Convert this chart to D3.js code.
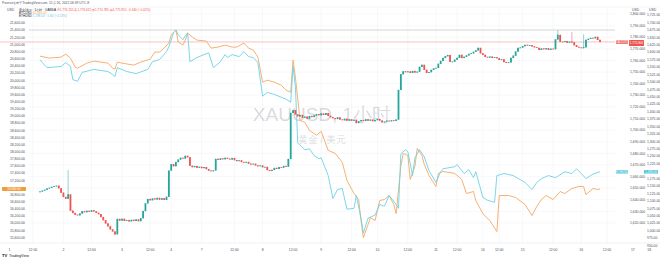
<!DOCTYPE html>
<html>
<head>
<meta charset="utf-8">
<script src="https://cdn.jsdelivr.net/npm/d3@7"></script>
<style>
  html, body { margin: 0; padding: 0; background: #fff; }
  svg { display: block; font-family: "Liberation Sans", Arial, sans-serif; }
</style>
</head>
<body>
<div id="chart"></div>
<script>
// XAUUSD hourly closes, 1 Nov - 16 Nov 2022
const goldClose = [
  1647.0, 1647.8, 1648.5, 1649.6, 1650.2, 1651.0, 1651.5, 1652.0, 1649.8, 1646.0,
  1642.3, 1640.8, 1644.5, 1630.5, 1628.5, 1627.0, 1626.5, 1628.0, 1630.0, 1629.2,
  1630.4, 1629.6, 1630.8, 1629.9, 1628.7, 1627.5, 1625.0, 1622.3, 1619.5, 1617.0,
  1614.4, 1612.6, 1610.2, 1623.4, 1622.0, 1623.5, 1621.8, 1622.4, 1621.3, 1622.6,
  1621.7, 1622.9, 1621.5, 1624.0, 1630.2, 1636.8, 1640.5, 1639.5, 1641.0, 1640.2,
  1641.5, 1640.0, 1641.2, 1639.8, 1642.5, 1665.0, 1670.5, 1668.8, 1672.4, 1674.5,
  1676.0, 1675.4, 1677.7, 1676.5, 1669.2, 1668.0, 1668.9, 1667.5, 1668.3, 1667.2,
  1668.0, 1666.3, 1665.0, 1664.5, 1665.2, 1675.1, 1674.3, 1675.5, 1674.8, 1676.0,
  1675.2, 1674.6, 1675.8, 1674.0, 1673.2, 1673.8, 1672.4, 1671.9, 1672.5, 1671.0,
  1670.3, 1670.9, 1669.5, 1668.8, 1669.4, 1667.9, 1668.2, 1665.5, 1664.8, 1665.6,
  1667.3, 1666.5, 1668.0, 1667.6, 1669.0, 1668.4, 1675.0, 1714.7, 1717.0, 1713.4,
  1711.8, 1712.9, 1710.6, 1711.5, 1709.8, 1712.0, 1711.2, 1712.5, 1713.6, 1712.8,
  1714.2, 1713.0, 1714.5, 1712.2, 1711.0, 1710.2, 1709.5, 1710.8, 1709.0, 1708.5,
  1709.6, 1708.2, 1709.1, 1708.0, 1708.8, 1706.0, 1707.5, 1708.4, 1707.8, 1709.2,
  1708.0, 1708.9, 1707.6, 1708.5, 1709.4, 1708.1, 1706.6, 1707.2, 1708.0, 1707.5,
  1708.3, 1707.9, 1709.0, 1734.5, 1748.0, 1750.5, 1749.8, 1750.4, 1749.2, 1750.8,
  1749.5, 1750.2, 1754.4, 1756.1, 1751.8, 1749.2, 1749.8, 1751.8, 1753.0, 1753.5,
  1757.0, 1759.5, 1762.0, 1763.5, 1764.5, 1758.7, 1758.9, 1760.5, 1762.1, 1764.7,
  1762.0, 1763.0, 1764.2, 1765.5, 1766.0, 1767.3, 1768.5, 1770.7, 1766.0, 1764.7,
  1763.0, 1762.4, 1763.2, 1762.1, 1762.6, 1761.8, 1760.4, 1760.8, 1758.5, 1757.8,
  1758.2, 1762.1, 1764.0, 1767.5, 1770.7, 1771.0, 1772.2, 1773.3, 1772.8, 1773.0,
  1772.0, 1771.2, 1770.7, 1769.0, 1770.2, 1769.5, 1770.4, 1769.0, 1770.0, 1769.6,
  1778.0, 1781.9, 1776.0, 1775.9, 1776.5, 1775.2, 1776.0, 1775.5, 1773.0, 1771.6,
  1771.0, 1770.8, 1771.2, 1777.6, 1778.5, 1779.3, 1779.0, 1780.2, 1777.6, 1775.9
]
const goldFirstOpen = 1646.5
// [bar, high, low] for the candles with visible wicks
const goldWicks = [
  [12, 1665.6, 1640.5], [32, 1612.6, 1609.5], [221, 1786.2, 1777.5],
  [227, 1784.5, 1774.8], [232, 1782.5, 1770.0]
]
const goldLevel = 1786.2

// comparison series, [bar, close]
const btcLine = [
  [0, 20677], [4, 20621], [9, 20649], [11, 20733], [13, 20621], [15, 20368], [16, 20340],
  [20, 20481], [23, 20537], [29, 20481], [31, 20340], [32, 20312], [33, 20509], [35, 20481],
  [40, 20425], [43, 20509], [47, 20593], [49, 20790], [51, 20790], [53, 20902], [55, 21042],
  [56, 21267], [58, 21407], [59, 21070], [61, 20986], [62, 21126], [63, 21323], [65, 21211],
  [67, 21126], [71, 21098], [73, 20902], [76, 20930], [79, 20986], [82, 20930], [84, 20930],
  [87, 21042], [89, 20902], [91, 20846], [93, 20649], [95, 19947], [97, 20004], [100, 19947],
  [103, 19863], [105, 19723], [107, 19667], [108, 20565], [109, 20088], [111, 18881],
  [113, 18825], [115, 18600], [118, 18460], [120, 18572], [123, 18039], [126, 17954],
  [129, 17702], [131, 17197], [134, 16832], [136, 16663], [137, 16074], [138, 15596],
  [140, 15961], [141, 16158], [143, 16074], [145, 16635], [147, 16663], [149, 16775],
  [151, 16523], [152, 16270], [154, 17590], [155, 17954], [157, 17898], [158, 17225],
  [160, 17590], [161, 18095], [163, 17898], [164, 17646], [166, 17337], [169, 17028],
  [170, 17393], [172, 17449], [177, 17393], [180, 17225], [182, 16832], [185, 16888],
  [186, 16635], [189, 16270], [192, 16074], [195, 15765], [196, 16775], [200, 16775],
  [203, 16719], [207, 16523], [210, 16214], [212, 16467], [214, 16663], [216, 16775],
  [219, 16663], [222, 16888], [224, 16832], [227, 16972], [230, 17028], [232, 17028],
  [233, 16800], [236, 16972], [238, 16944], [239, 16960]
]
const ethLine = [
  [0, 1575], [1, 1565], [3, 1548], [9, 1552], [11, 1565], [13, 1552], [14, 1508], [16, 1502],
  [18, 1532], [23, 1542], [29, 1535], [31, 1525], [32, 1518], [33, 1548], [37, 1535],
  [41, 1528], [46, 1542], [48, 1568], [51, 1575], [54, 1602], [55, 1618], [57, 1665],
  [58, 1675], [59, 1658], [61, 1642], [62, 1655], [63, 1665], [64, 1568], [67, 1582],
  [70, 1592], [72, 1598], [74, 1548], [77, 1568], [79, 1592], [80, 1582], [82, 1592],
  [85, 1585], [87, 1602], [89, 1585], [91, 1582], [93, 1565], [95, 1452], [97, 1465],
  [100, 1458], [105, 1442], [107, 1432], [108, 1552], [109, 1485], [110, 1295], [113, 1272],
  [115, 1275], [117, 1252], [119, 1242], [120, 1245], [123, 1185], [125, 1108], [127, 1138],
  [129, 1142], [131, 1072], [134, 1075], [135, 1118], [137, 1042], [138, 992], [140, 1042],
  [143, 1052], [145, 1088], [147, 1082], [149, 1118], [152, 1088], [153, 1075], [154, 1258],
  [156, 1272], [157, 1265], [159, 1185], [160, 1245], [162, 1272], [164, 1248], [166, 1202],
  [169, 1162], [171, 1198], [172, 1208], [177, 1215], [178, 1222], [181, 1192], [183, 1205],
  [185, 1178], [186, 1198], [189, 1112], [191, 1102], [194, 1095], [195, 1185], [198, 1192],
  [202, 1185], [207, 1162], [210, 1138], [212, 1162], [214, 1175], [217, 1185], [220, 1178],
  [224, 1198], [227, 1192], [229, 1208], [231, 1192], [233, 1175], [236, 1190], [239, 1198]
]

// axes
const timeTicks = [-13, -3, 10, 22, 35, 47, 56, 69, 83, 95, 108, 120, 133, 144, 157, 169,
  178, 189, 196, 206, 219, 231, 242, 253, 260]
const timeLabels = ['1', '12:00', '2', '12:00', '3', '12:00', '4', '7', '12:00', '8', '12:00',
  '9', '12:00', '10', '12:00', '11', '12:00', '14', '12:00', '15', '12:00', '16', '12:00', '17', '18']
const goldTicks = [1620, 1630, 1640, 1650, 1660, 1670, 1680, 1690, 1700, 1710, 1720, 1730,
  1740, 1750, 1760, 1770, 1780, 1790, 1800]
const btcTicks = [15600, 15800, 16000, 16200, 16400, 16600, 16800, 17000, 17200, 17400, 17600,
  17800, 18000, 18200, 18400, 18600, 18800, 19000, 19200, 19400, 19600, 19800, 20000, 20200,
  20400, 20600, 20800, 21000, 21200, 21400, 21600]
const ethTicks = [950, 975, 1000, 1025, 1050, 1075, 1100, 1125, 1150, 1175, 1200, 1225, 1250,
  1275, 1300, 1325, 1350, 1375, 1400, 1425, 1450, 1475, 1500, 1525, 1550, 1575, 1600, 1625,
  1650, 1675, 1700, 1725]

// texts
const headerText = 'Pounce发布于TradingView.com, 11月 16, 2022 06:39 UTC-8'
const legendRows = [
  {name: '黄金/美元 · 1小时 · OANDA', value: '开1,776.255 高1,776.615 低1,774.785 收1,775.915 −0.340 (−0.02%)', color: '#ef5350'},
  {name: 'BTCUSD', value: '16,960.00', color: '#f2a45c'},
  {name: 'ETHUSD', value: '1,198.00 −1.60 (−0.13%)', color: '#5fcde4'}
]

const upColor = '#26a69a', downColor = '#ef5350',
      btcColor = '#f5a862', ethColor = '#6dd1e9'

// Pane geometry
const W = 660, H = 260
const pane = {left: 29, right: 615, top: 7, bottom: 243}

const svg = d3.select('#chart').append('svg')
  .attr('width', W).attr('height', H)

// Scales
const x = d3.scaleLinear().domain([0, goldClose.length - 1]).range([40, 600])
const yGold = d3.scaleLinear().domain([1620, 1800]).range([223, 14])
const yBtc = d3.scaleLinear().domain([15600, 21800]).range([237.5, 16])
const yEth = d3.scaleLinear().domain([950, 1725]).range([245.5, 15])

const lastGold = goldClose[goldClose.length - 1],
      lastBtc = btcLine[btcLine.length - 1][1],
      lastEth = ethLine[ethLine.length - 1][1]

// Grid
const grid = svg.append('g').attr('class', 'grid')
grid.selectAll('.vgrid').data(timeTicks.filter(t => x(t) > pane.left && x(t) < pane.right))
  .join('line')
  .attr('x1', d => x(d)).attr('x2', d => x(d))
  .attr('y1', pane.top).attr('y2', pane.bottom)
  .attr('stroke', '#f0f1f4').attr('stroke-width', 0.6)
grid.selectAll('.hgrid').data(goldTicks)
  .join('line')
  .attr('x1', pane.left).attr('x2', pane.right)
  .attr('y1', d => yGold(d)).attr('y2', d => yGold(d))
  .attr('stroke', '#f3f4f7').attr('stroke-width', 0.6)

// pane borders
svg.append('line').attr('x1', 0).attr('x2', W).attr('y1', pane.top).attr('y2', pane.top)
  .attr('stroke', '#eceef2').attr('stroke-width', 0.6)
svg.append('line').attr('x1', 0).attr('x2', W).attr('y1', pane.bottom).attr('y2', pane.bottom)
  .attr('stroke', '#e3e5ea').attr('stroke-width', 0.6)

// Watermark
svg.append('text')
  .attr('x', (pane.left + pane.right) / 2).attr('y', 121)
  .attr('text-anchor', 'middle')
  .style('font-size', '19px')
  .attr('fill', '#787b86').attr('fill-opacity', 0.28)
  .text('XAUUSD, 1小时')
svg.append('text')
  .attr('x', (pane.left + pane.right) / 2).attr('y', 143)
  .attr('text-anchor', 'middle')
  .style('font-size', '10px')
  .attr('fill', '#787b86').attr('fill-opacity', 0.28)
  .text('黄金 / 美元')

// Horizontal level and last price line
svg.append('line')
  .attr('x1', pane.left).attr('x2', pane.right)
  .attr('y1', yGold(goldLevel)).attr('y2', yGold(goldLevel))
  .attr('stroke', '#b8bbc4').attr('stroke-width', 0.6)
svg.append('line')
  .attr('x1', 0).attr('x2', pane.right)
  .attr('y1', yGold(lastGold)).attr('y2', yGold(lastGold))
  .attr('stroke', '#ef5350').attr('stroke-opacity', 0.6).attr('stroke-width', 0.6)

// Comparison lines
const lineGen = (yScale) => d3.line().x(d => x(d[0])).y(d => yScale(d[1]))
svg.append('path').datum(btcLine)
  .attr('d', lineGen(yBtc))
  .attr('fill', 'none').attr('stroke', btcColor).attr('stroke-width', 0.9)
svg.append('path').datum(ethLine)
  .attr('d', lineGen(yEth))
  .attr('fill', 'none').attr('stroke', ethColor).attr('stroke-width', 0.9)

// Candles
const wickMap = new Map(goldWicks.map(w => [w[0], w]))
const candles = goldClose.map((c, i) => {
  let o = i === 0 ? goldFirstOpen : goldClose[i - 1]
  let w = wickMap.get(i)
  return {
    i: i, o: o, c: c,
    h: w ? w[1] : Math.max(o, c),
    l: w ? w[2] : Math.min(o, c)
  }
})
const step = x(1) - x(0)
const cg = svg.append('g').attr('class', 'candles')
cg.selectAll('line').data(candles).join('line')
  .attr('x1', d => x(d.i)).attr('x2', d => x(d.i))
  .attr('y1', d => yGold(d.h)).attr('y2', d => yGold(d.l))
  .attr('stroke', d => d.c >= d.o ? upColor : downColor)
  .attr('stroke-width', 0.5)
cg.selectAll('rect').data(candles).join('rect')
  .attr('x', d => x(d.i) - step * 0.38)
  .attr('width', step * 0.76)
  .attr('y', d => yGold(Math.max(d.o, d.c)) - 0.3)
  .attr('height', d => Math.max(0.9, Math.abs(yGold(d.o) - yGold(d.c)) + 0.3))
  .attr('fill', d => d.c >= d.o ? upColor : downColor)

// Price axes (labels under a value tag are hidden, as the platform does)
const axisText = {size: '3.4px', color: '#4a4d57'}
const fmt2 = d3.format(',.2f'), fmt3 = d3.format(',.3f')
const clear = (yPos, yTag) => Math.abs(yPos - yTag) > 4

svg.append('g').selectAll('text').data(btcTicks.filter(d => clear(yBtc(d), yBtc(lastBtc))))
  .join('text')
  .attr('x', 25).attr('y', d => yBtc(d) + 1.2)
  .attr('text-anchor', 'end')
  .style('font-size', axisText.size).attr('fill', axisText.color)
  .text(d => fmt2(d))
svg.append('g').selectAll('text').data(goldTicks.filter(d => clear(yGold(d), yGold(lastGold))))
  .join('text')
  .attr('x', 630).attr('y', d => yGold(d) + 1.2)
  .style('font-size', axisText.size).attr('fill', axisText.color)
  .text(d => fmt3(d))
svg.append('g').selectAll('text').data(ethTicks.filter(d => clear(yEth(d), yEth(lastEth))))
  .join('text')
  .attr('x', 647).attr('y', d => yEth(d) + 1.2)
  .style('font-size', axisText.size).attr('fill', axisText.color)
  .text(d => fmt2(d))

// currency headers
;[7, 632, 649].forEach(px => {
  svg.append('text').attr('x', px).attr('y', 10.5)
    .style('font-size', axisText.size).attr('fill', axisText.color).text('USD')
})

// Time axis
svg.append('g').selectAll('text').data(timeTicks).join('text')
  .attr('x', d => x(d)).attr('y', 250.5)
  .attr('text-anchor', 'middle')
  .style('font-size', axisText.size).attr('fill', axisText.color)
  .text((d, i) => timeLabels[i])

// Last value labels
function tag(x0, x1, yc, h, fill, label) {
  svg.append('rect').attr('x', x0).attr('y', yc - h / 2)
    .attr('width', x1 - x0).attr('height', h).attr('rx', 0.6).attr('fill', fill)
  svg.append('text').attr('x', (x0 + x1) / 2).attr('y', yc + 1.1)
    .attr('text-anchor', 'middle').style('font-size', '3px').attr('fill', '#fff')
    .text(label)
}
let yg = yGold(lastGold)
tag(616, 628, yg, 3.6, '#ef5350', 'XAUUSD')
tag(629, 644, yg + 1, 6, '#ef5350', fmt3(lastGold))
let ye = yEth(lastEth)
tag(616, 628, ye, 3.6, '#4fc3dc', 'ETHUSD')
tag(644, 658, ye, 3.6, '#4fc3dc', fmt2(lastEth))
let yb = yBtc(lastBtc)
tag(2, 26, yb, 4, '#f39c3d', fmt2(lastBtc))

// Header and legend
svg.append('text').attr('x', 2).attr('y', 4.2)
  .style('font-size', '3.3px').attr('fill', '#50535e').text(headerText)
legendRows.forEach((r, k) => {
  let t = svg.append('text').attr('x', 19).attr('y', 10.5 + k * 3.4)
    .style('font-size', '3.1px')
  t.append('tspan').attr('fill', '#131722').text(r.name + '  ')
  t.append('tspan').attr('fill', r.color).text(r.value)
})

// TradingView mark
svg.append('text').attr('x', 2).attr('y', 257)
  .style('font-size', '4.2px').style('font-weight', 'bold').attr('fill', '#131722').text('TV')
svg.append('text').attr('x', 9).attr('y', 257)
  .style('font-size', '3.6px').attr('fill', '#131722').text('TradingView')
</script>
</body>
</html>
